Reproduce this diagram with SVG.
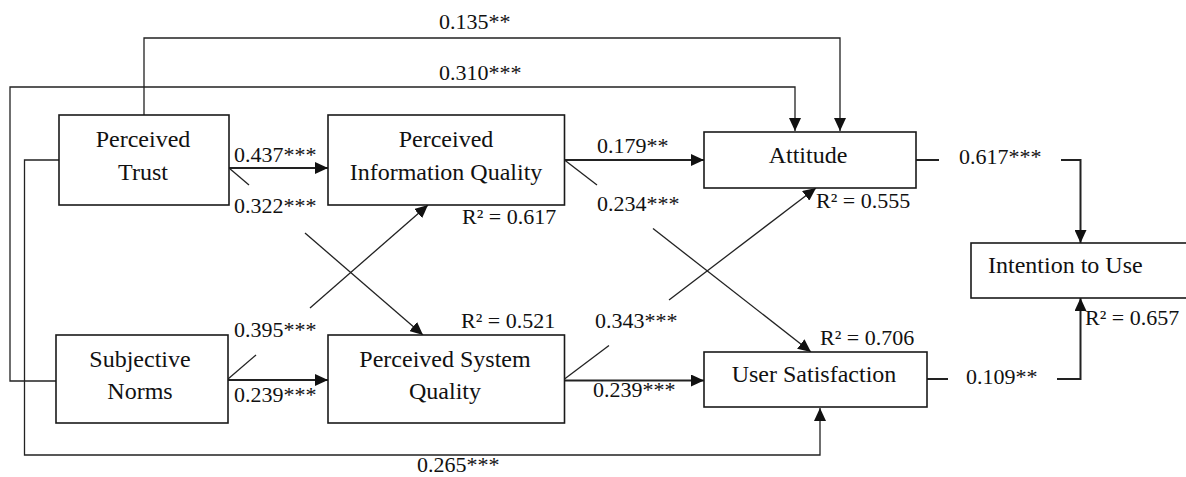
<svg xmlns="http://www.w3.org/2000/svg" width="1186" height="477" viewBox="0 0 1186 477">
<style>
  .box { fill: #ffffff; stroke: #1a1a1a; stroke-width: 1.6; }
  .nl { font-family: "Liberation Serif", "Times New Roman", serif; font-size: 24px; fill: #111; text-anchor: middle; }
  .lb { font-family: "Liberation Serif", "Times New Roman", serif; font-size: 22px; fill: #111; }
  .c { fill: none; stroke: #222; stroke-width: 1.3; }
  .ch { fill: none; stroke: #222; stroke-width: 2; }
</style>
<defs>
  <marker id="ah" markerUnits="userSpaceOnUse" markerWidth="14" markerHeight="12" refX="13" refY="6" orient="auto">
    <path d="M0,0 L13,6 L0,12 z" fill="#111"/>
  </marker>
</defs>
<rect width="1186" height="477" fill="#ffffff"/>

<g id="connectors">
  <path class="c" d="M144,115 V38 H840 V131" marker-end="url(#ah)"/>
  <path class="c" d="M56,381 H10 V87 H795 V131" marker-end="url(#ah)"/>
  <path class="c" d="M59,160 H24.5 V455 H820 V408" marker-end="url(#ah)"/>
  <path class="ch" d="M229,168 H328" marker-end="url(#ah)"/>
  <path class="c" d="M229,168 L249,185"/>
  <path class="c" d="M305,233 L423,335" marker-end="url(#ah)"/>
  <path class="c" d="M228,379 L256,355"/>
  <path class="c" d="M310,308 L428,205" marker-end="url(#ah)"/>
  <path class="ch" d="M228,380 H328" marker-end="url(#ah)"/>
  <path class="ch" d="M564.5,160 H704" marker-end="url(#ah)"/>
  <path class="c" d="M564.5,160 L597,185"/>
  <path class="c" d="M653,228.5 L811,352" marker-end="url(#ah)"/>
  <path class="c" d="M564.5,379 L609,345.5"/>
  <path class="c" d="M669,300 L816,188" marker-end="url(#ah)"/>
  <path class="ch" d="M564.5,380.5 H704" marker-end="url(#ah)"/>
  <path class="ch" d="M916,160 H939"/>
  <path class="ch" d="M1061,160 H1080.5 V243" marker-end="url(#ah)"/>
  <path class="ch" d="M927,379 H948"/>
  <path class="ch" d="M1057,379 H1080.5 V298" marker-end="url(#ah)"/>
</g>

<g id="labels">
  <text class="lb" x="439" y="29">0.135**</text>
  <text class="lb" x="439" y="80">0.310***</text>
  <text class="lb" x="234" y="162">0.437***</text>
  <text class="lb" x="234" y="213">0.322***</text>
  <text class="lb" x="597" y="153">0.179**</text>
  <text class="lb" x="597" y="211">0.234***</text>
  <text class="lb" x="462" y="224">R² = 0.617</text>
  <text class="lb" x="816" y="208">R² = 0.555</text>
  <text class="lb" x="959" y="164">0.617***</text>
  <text class="lb" x="1085" y="325">R² = 0.657</text>
  <text class="lb" x="234" y="337">0.395***</text>
  <text class="lb" x="461" y="328">R² = 0.521</text>
  <text class="lb" x="595" y="328">0.343***</text>
  <text class="lb" x="820" y="345">R² = 0.706</text>
  <text class="lb" x="234" y="402">0.239***</text>
  <text class="lb" x="593" y="397">0.239***</text>
  <text class="lb" x="966" y="384">0.109**</text>
  <text class="lb" x="417" y="472">0.265***</text>
</g>

<g id="perceived-trust">
  <rect class="box" x="59" y="115" width="170" height="90"/>
  <text class="nl" x="143" y="147">Perceived</text>
  <text class="nl" x="143" y="180">Trust</text>
</g>
<g id="perceived-information-quality">
  <rect class="box" x="328" y="115" width="236.5" height="90"/>
  <text class="nl" x="446" y="147">Perceived</text>
  <text class="nl" x="446" y="180">Information Quality</text>
</g>
<g id="attitude">
  <rect class="box" x="704" y="132" width="212" height="56"/>
  <text class="nl" x="808" y="163">Attitude</text>
</g>
<g id="subjective-norms">
  <rect class="box" x="56" y="335" width="172" height="88"/>
  <text class="nl" x="140" y="367">Subjective</text>
  <text class="nl" x="140" y="399">Norms</text>
</g>
<g id="perceived-system-quality">
  <rect class="box" x="328" y="335" width="236.5" height="88"/>
  <text class="nl" x="445" y="367">Perceived System</text>
  <text class="nl" x="445" y="399">Quality</text>
</g>
<g id="user-satisfaction">
  <rect class="box" x="704" y="352" width="223" height="55"/>
  <text class="nl" x="814" y="382">User Satisfaction</text>
</g>
<g id="intention-to-use">
  <rect class="box" x="971" y="243" width="222" height="55"/>
  <text class="nl" x="988" y="273" style="text-anchor:start">Intention to Use</text>
</g>
</svg>
